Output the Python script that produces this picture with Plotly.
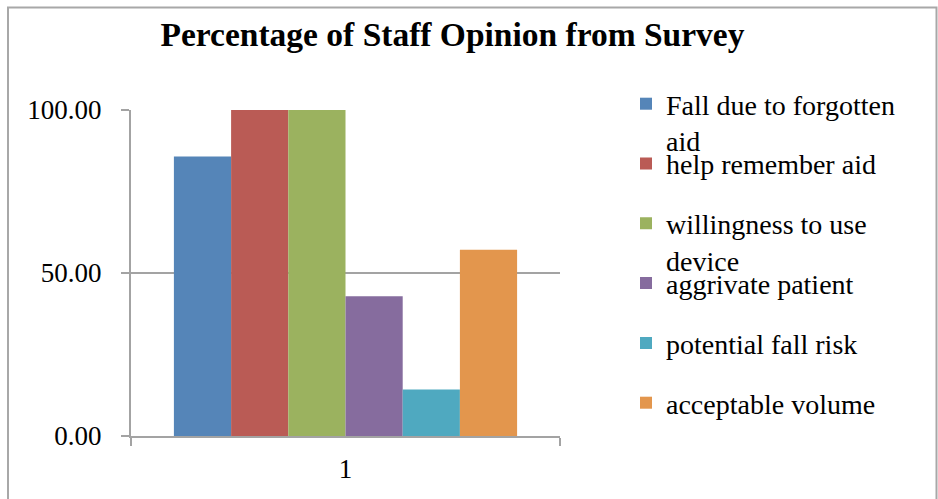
import plotly.graph_objects as go

# Survey results (percent of staff), one bar per statement
categories = ["1"]
series_names = [
    "Fall due to forgotten<br>aid",
    "help remember aid",
    "willingness to use<br>device",
    "aggrivate patient",
    "potential fall risk",
    "acceptable volume",
]
series_values = [85.71, 100.0, 100.0, 42.86, 14.29, 57.14]
series_colors = ["#5585B8", "#BA5B55", "#9BB25F", "#866C9E", "#4FA9C0", "#E3964D"]
y_tick_values = [0, 50, 100]
y_tick_labels = ["0.00", "50.00", "100.00"]

W, H = 938, 499
# plot area in pixels
PL, PR, PT, PB = 131, 560, 110, 436
PW, PH = PR - PL, PB - PT

def px_x(p):
    return (p - PL) / PW

def px_y(p):
    return (PB - p) / PH

FONT = "Liberation Serif"
GRAY = "#A3A3A3"

fig = go.Figure()
legend_names = ["legend"] + [f"legend{i}" for i in range(2, len(series_names) + 1)]
for name, val, col, lg in zip(series_names, series_values, series_colors, legend_names):
    fig.add_trace(go.Bar(
        x=categories, y=[val], name=name,
        marker=dict(color=col, line=dict(width=0)),
        legend=lg, showlegend=True,
    ))

layout = dict(
    width=W, height=H,
    showlegend=True,
    margin=dict(l=PL, r=W - PR, t=PT, b=H - PB, pad=0),
    paper_bgcolor="white", plot_bgcolor="white",
    barmode="group", bargap=0.2, bargroupgap=0,
    font=dict(family=FONT, size=27, color="#000000"),
    title=dict(
        text="<b>Percentage of Staff Opinion from Survey</b>",
        font=dict(family=FONT, size=33.5, color="#000000"),
        x=452.5 / W, xref="container", xanchor="center",
        y=1 - 34 / H, yref="container", yanchor="middle",
    ),
    xaxis=dict(
        type="category", range=[-0.5, 0.5],
        showline=True, linecolor=GRAY, linewidth=2,
        ticks="outside", tickson="boundaries", ticklen=8, tickcolor=GRAY, tickwidth=2,
        showgrid=False, ticklabelstandoff=8,
        tickfont=dict(family=FONT, size=27),
    ),
    yaxis=dict(
        range=[0, 100], tickvals=y_tick_values, ticktext=y_tick_labels,
        showline=True, linecolor=GRAY, linewidth=2,
        ticks="outside", ticklen=8, tickcolor=GRAY, tickwidth=2,
        showgrid=True, gridcolor=GRAY, gridwidth=1.5, zeroline=False,
        ticklabelstandoff=14,
        tickfont=dict(family=FONT, size=27),
    ),
    shapes=[dict(
        type="rect", xref="paper", yref="paper",
        x0=px_x(8), x1=px_x(936.5), y0=px_y(520), y1=px_y(7.5),
        line=dict(color="#A8A8A8", width=2), fillcolor="rgba(0,0,0,0)",
        layer="below",
    )],
)

# one legend block per series, stacked at an even pitch
legend_left = 626
first_top = 79
pitch = 59.8
for i, lg in enumerate(legend_names):
    layout[lg] = dict(
        x=px_x(legend_left), xanchor="left",
        y=px_y(first_top + i * pitch), yanchor="top",
        bgcolor="rgba(0,0,0,0)", borderwidth=0,
        font=dict(family=FONT, size=28, color="#000000"),
        valign="top", itemclick=False, itemdoubleclick=False,
    )

fig.update_layout(**layout)
fig.write_html("out.html")
